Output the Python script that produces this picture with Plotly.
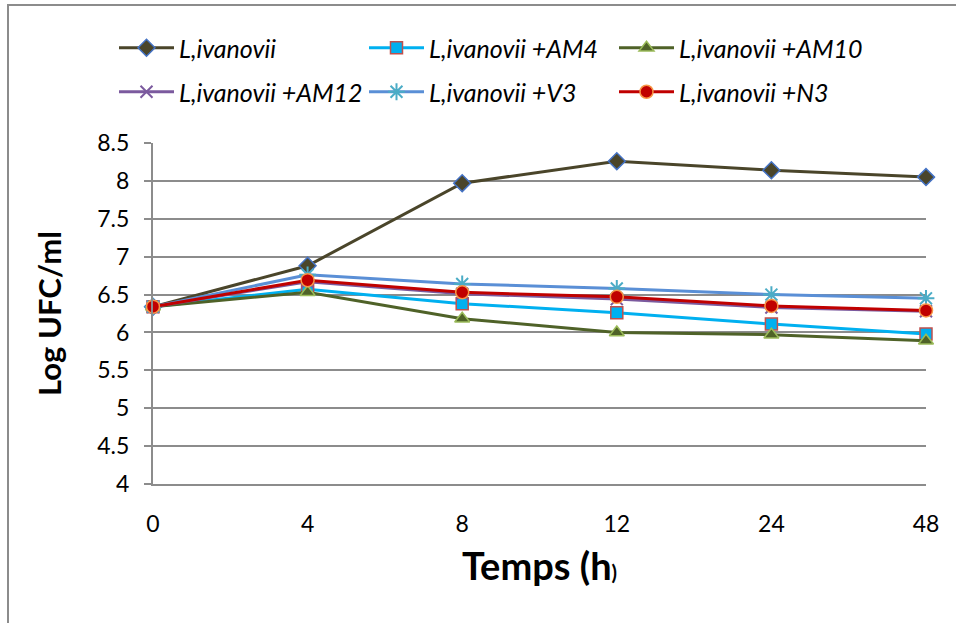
import plotly.graph_objects as go

# Sampling times (h) and log counts for each condition
temps = ["0", "4", "8", "12", "24", "48"]
l_ivanovii = [6.34, 6.88, 7.97, 8.26, 8.14, 8.05]
l_am4 = [6.34, 6.57, 6.38, 6.26, 6.11, 5.98]
l_am10 = [6.34, 6.53, 6.18, 6.00, 5.97, 5.89]
l_am12 = [6.34, 6.67, 6.51, 6.44, 6.33, 6.28]
l_v3 = [6.34, 6.76, 6.64, 6.58, 6.50, 6.45]
l_n3 = [6.34, 6.69, 6.53, 6.47, 6.35, 6.29]

y_ticks = [4, 4.5, 5, 5.5, 6, 6.5, 7, 7.5, 8, 8.5]

FONT = "Lato"

series = [
    ("L,ivanovii", l_ivanovii, "#4a452a", dict(symbol="diamond", color="#4a452a", size=13,
                                                line=dict(color="#4472c4", width=1.5)), "legend"),
    ("L,ivanovii +AM4", l_am4, "#00b0f0", dict(symbol="square", color="#00b0f0", size=12,
                                                 line=dict(color="#c0504d", width=1.5)), "legend"),
    ("L,ivanovii +AM10", l_am10, "#4f6228", dict(symbol="triangle-up", color="#4f6228", size=13,
                                                   line=dict(color="#9bbb59", width=1.5)), "legend"),
    ("L,ivanovii +AM12", l_am12, "#7b5a9e", dict(symbol="x-thin-open", color="#7b5a9e", size=12,
                                                   line=dict(color="#7b5a9e", width=2)), "legend2"),
    ("L,ivanovii +V3", l_v3, "#5a8fd6", dict(symbol="asterisk-open", color="#4bacc6", size=14,
                                               line=dict(color="#4bacc6", width=2)), "legend2"),
    ("L,ivanovii +N3", l_n3, "#c00000", dict(symbol="circle", color="#c00000", size=13,
                                               line=dict(color="#f79646", width=1.5)), "legend2"),
]

fig = go.Figure()
for name, vals, color, marker, leg in series:
    fig.add_trace(go.Scatter(
        x=temps, y=vals, name=name, mode="lines+markers",
        line=dict(color=color, width=3), marker=marker,
        cliponaxis=False, legend=leg,
    ))

W, H = 956, 623
ml, mr, mt, mb = 153, 30, 143, 139
pw, ph = W - ml - mr, H - mt - mb


def px_x(p):
    return (p - ml) / pw


def px_y(p):
    return (H - mb - p) / ph


legend_common = dict(
    orientation="h", xanchor="left", yanchor="middle",
    font=dict(family=FONT, size=25, color="#000000", style="italic"),
    entrywidth=180, entrywidthmode="pixels", itemwidth=55,
    bgcolor="rgba(0,0,0,0)", traceorder="normal",
)

fig.update_layout(
    width=W, height=H,
    margin=dict(l=ml, r=mr, t=mt, b=mb),
    paper_bgcolor="white", plot_bgcolor="white",
    font=dict(family=FONT, color="#000000"),
    showlegend=True,
    legend=dict(x=px_x(114), y=px_y(48), **legend_common),
    legend2=dict(x=px_x(114), y=px_y(92), **legend_common),
    xaxis=dict(
        type="category", range=[0, 5],
        showgrid=False, showline=True, linecolor="#8c8c8c", linewidth=2,
        ticks="", ticklabelstandoff=18,
        tickfont=dict(family=FONT, size=23, color="#000000"),
        title=dict(text="<b>Temps (h</b><span style='font-size:20px'><b>)</b></span>",
                   font=dict(family=FONT, size=38, color="#000000"), standoff=18),
        zeroline=False, fixedrange=True,
    ),
    yaxis=dict(
        range=[4, 8.5], tickvals=y_ticks, ticktext=[f"{v:g}" for v in y_ticks],
        showgrid=True, gridcolor="#8c8c8c", gridwidth=2,
        showline=True, linecolor="#8c8c8c", linewidth=2,
        ticks="outside", ticklen=7, tickcolor="#8c8c8c", tickwidth=2,
        ticklabelstandoff=10,
        tickfont=dict(family=FONT, size=23, color="#000000"),
        title=dict(text="<b>Log UFC/ml</b>", font=dict(family=FONT, size=31, color="#000000"),
                   standoff=26),
        zeroline=False, fixedrange=True,
    ),
    shapes=[dict(
        type="rect", xref="paper", yref="paper",
        x0=px_x(8), x1=px_x(W + 20), y0=px_y(H + 20), y1=px_y(5),
        line=dict(color="#8c8c8c", width=2), fillcolor="rgba(0,0,0,0)", layer="below",
    )],
)

fig.write_html("out.html")
